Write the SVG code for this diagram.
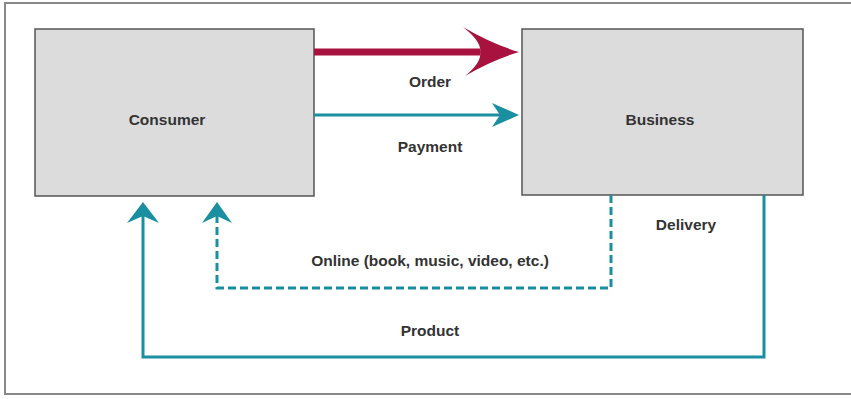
<svg xmlns="http://www.w3.org/2000/svg" width="851" height="399" viewBox="0 0 851 399">
<style>
.box{fill:#dcdcdc;stroke:#555;stroke-width:1.5}
.lbl{font-family:"Liberation Sans",Arial,sans-serif;font-weight:bold;font-size:15.5px;fill:#333;text-anchor:middle}
.teal{fill:none;stroke:#1a8fa0;stroke-width:3}
.tealf{fill:#1a8fa0}
</style>
<rect x="0" y="0" width="851" height="399" fill="#fff"/>
<rect x="5" y="3" width="850" height="391" fill="none" stroke="#888" stroke-width="2"/>
<g id="consumer">
<rect class="box" x="35" y="29" width="279" height="167"/>
<text class="lbl" x="167" y="125">Consumer</text>
</g>
<g id="business">
<rect class="box" x="522" y="29" width="281" height="166"/>
<text class="lbl" x="660" y="125">Business</text>
</g>
<g id="connectors">
<line x1="314" y1="52" x2="480" y2="52" stroke="#a8123e" stroke-width="7"/>
<path d="M519,52 Q492,60 465,76 Q482,62 480,52 Q482,42 463,27 Q492,44 519,52 Z" fill="#a8123e"/>
<line x1="314" y1="115" x2="502" y2="115" class="teal"/>
<path d="M519,115 L492,103 L500,115 L492,127 Z" class="tealf"/>
<polyline points="611,195 611,288 217,288 217,216" class="teal" stroke-dasharray="8,4"/>
<path d="M217,202 L202,223 L217,216 L232,223 Z" class="tealf"/>
<polyline points="764,195 764,357 143,357 143,216" class="teal"/>
<path d="M143,202 L127,223 L143,216 L159,223 Z" class="tealf"/>
</g>
<g id="labels">
<text class="lbl" x="430" y="87">Order</text>
<text class="lbl" x="430" y="152">Payment</text>
<text class="lbl" x="686" y="230">Delivery</text>
<text class="lbl" x="430" y="266">Online (book, music, video, etc.)</text>
<text class="lbl" x="430" y="336">Product</text>
</g>
</svg>
